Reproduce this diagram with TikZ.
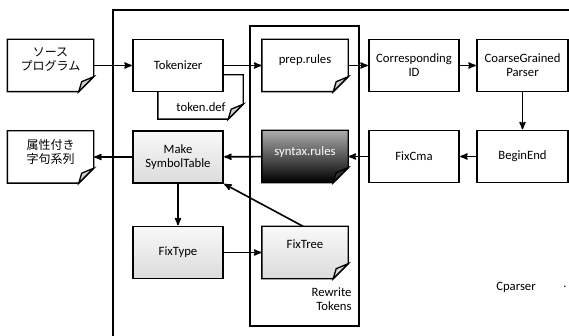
\documentclass[tikz,border=0pt]{standalone}
\usepackage{fontspec}
\setmainfont{Carlito}
\newfontfamily\jpfont{Noto Sans CJK JP}
\usetikzlibrary{arrows, backgrounds}
\newlength{\foldsize}
\setlength{\foldsize}{15pt}
\tikzset{proc/.style = {shape=rectangle,draw,line width=1.4pt,minimum width=90pt,minimum height=52pt,align=center}}
\tikzset{doc/.style = {shape=rectangle,minimum width=86pt,minimum height=52pt,align=center,text depth=12pt}}
\tikzset{light/.style = {top color=gray!5,bottom color=gray!28}}
\tikzset{dark/.style = {top color=gray!65,bottom color=black}}
\tikzset{edge/.style = {->,> = stealth',line width=1.6pt,shorten >=0.5pt}}
\tikzset{frame/.style = {line width=1.5pt}}
\tikzset{jp/.style = {font=\jpfont\fontsize{12}{14}\selectfont}}
% outline of a document with a folded corner, drawn round a node
\newcommand{\docframe}[3]{%
  \draw[line width=1.4pt,#2] (#1.north west) -- (#1.north east)
    -- ([yshift=\foldsize]#1.south east) -- ([xshift=-\foldsize]#1.south east)
    -- (#1.south west) -- cycle;
  \draw[line width=1.3pt,fill=#3] ([yshift=\foldsize]#1.south east)
    -- ([xshift=-12pt,yshift=10pt]#1.south east) -- ([xshift=-\foldsize]#1.south east) -- cycle;}

\begin{document}
\begin{tikzpicture}[x=1pt,y=-1pt,font=\fontsize{12.7}{14}\selectfont]
        \path[use as bounding box,clip] (0,0) rectangle (569,336);
        % frames
        \draw[frame] (113,340) -- (113,10) -- (575,10);
        \draw[frame] (250,26) rectangle (359,326);
        \node[anchor=north east,align=right] (rwlabel) at (355,284) {Rewrite\\Tokens};
        % top row
        \node[doc,jp] (src) at (50.5,65.5) {ソース\\プログラム};
        \node[proc,fill=white] (tok) at (178,65.5) {Tokenizer};
        \node[doc,minimum width=85pt,minimum height=44pt] (tokdef) at (200.5,97) {};
        \node (tokdeftext) at (201,107) {token.def};
        \node[doc] (prep) at (305,65.5) {prep.rules};
        \node[proc] (corr) at (414,65.5) {Corresponding\\ID};
        \node[proc,minimum width=91pt] (coarse) at (522.5,65.5) {CoarseGrained\\Parser};
        % middle row
        \node[doc,jp] (attr) at (50.5,157) {属性付き\\字句系列};
        \node[proc,light] (mst) at (178,157) {Make\\SymbolTable};
        \node[doc,text=white,text depth=10pt] (syntax) at (305,156.5) {syntax.rules};
        \node[proc] (fixcma) at (414,156.5) {FixCma};
        \node[proc,minimum width=91pt] (begin) at (522.5,156.5) {BeginEnd};
        % bottom row
        \node[proc,light] (fixtype) at (178,252.5) {FixType};
        \node[doc,text depth=16pt] (fixtree) at (305,252.5) {FixTree};
        \node (cparser) at (516,287) {Cparser};
        \node (dot) at (565,287) {.};
        % document outlines
        \begin{scope}[on background layer]
        \docframe{src}{fill=white}{gray!35}
        \docframe{tokdef}{fill=white}{gray!35}
        \docframe{prep}{fill=white}{gray!35}
        \docframe{attr}{fill=white}{gray!35}
        \docframe{syntax}{dark}{black!80}
        \docframe{fixtree}{light}{gray!30}
        \end{scope}
        % connectors
        \draw[edge] (src) -- (tok);
        \draw[edge] (tok) -- (prep);
        \draw[edge] (prep) -- (corr);
        \draw[edge] (corr) -- (coarse);
        \draw[edge] (coarse) -- (begin);
        \draw[edge] (begin) -- (fixcma);
        \draw[edge] (fixcma) -- (syntax);
        \draw[edge] (syntax) -- (mst);
        \draw[edge] (mst) -- (attr);
        \draw[edge] (mst) -- (fixtype);
        \draw[edge] (fixtype) -- (fixtree);
        \draw[edge] ([xshift=-2pt]fixtree.north) -- (mst.south east);
    \end{tikzpicture}
\end{document}
